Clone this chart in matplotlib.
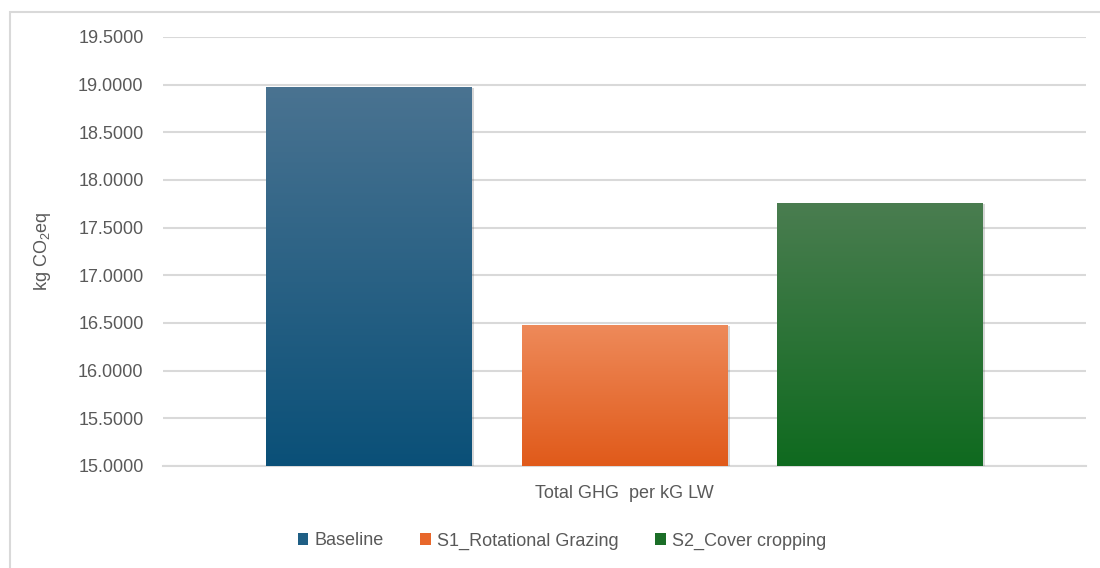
import numpy as np
import matplotlib.pyplot as plt
from matplotlib.patches import Patch, Rectangle
from matplotlib.colors import LinearSegmentedColormap
import matplotlib.patheffects as pe

plt.rcParams['font.family'] = ['Liberation Sans', 'DejaVu Sans']
plt.rcParams['mathtext.default'] = 'regular'

# scenario results
scenarios = ["Baseline", "S1_Rotational Grazing", "S2_Cover cropping"]
ghg_per_kg_lw = [18.98, 16.48, 17.76]
yticks = [15.0, 15.5, 16.0, 16.5, 17.0, 17.5, 18.0, 18.5, 19.0, 19.5]

# gradient end colours (top, bottom) per bar
grad_top = ['#4a7391', '#ee8a5a', '#4a7d50']
grad_bottom = ['#0a5078', '#e05a1a', '#0f6a1f']
legend_colors = ['#1f5f85', '#e8672b', '#1b6e27']

text_color = '#595959'
grid_color = '#d9d9d9'

fig = plt.figure(figsize=(11, 5.68), dpi=100)
ax = fig.add_axes([163 / 1100, 1 - 466 / 568, 923 / 1100, (466 - 37) / 568])

# outer chart border
fig.patches.append(Rectangle((10 / 1100, -0.1), 1.2, 1 - 12 / 568 + 0.1,
                             transform=fig.transFigure, fill=False,
                             edgecolor='#d9d9d9', linewidth=1.5))

x = np.arange(len(scenarios))
width = 0.806
bars = ax.bar(x, ghg_per_kg_lw, width=width, bottom=0, color='none', zorder=3,
              path_effects=[pe.SimplePatchShadow(offset=(1.5, -1), alpha=0.25,
                                                 shadow_rgbFace='#606060'),
                            pe.Normal()])

grad = np.linspace(0, 1, 256).reshape(-1, 1)
for bar, top, bottom, val in zip(bars, grad_top, grad_bottom, ghg_per_kg_lw):
    cmap = LinearSegmentedColormap.from_list('g', [bottom, top])
    x0 = bar.get_x()
    im = ax.imshow(grad, extent=[x0, x0 + width, 15.0, val], origin='lower',
                   cmap=cmap, aspect='auto', zorder=4)
    im.set_clip_path(bar)

ax.set_xlim(-width, 2 + width)
ax.set_ylim(15.0, 19.5)
ax.set_yticks(yticks)
ax.set_yticklabels([f'{t:.4f}' for t in yticks])
ax.set_xticks([])

ax.grid(axis='y', color=grid_color, linewidth=1.5, zorder=0)
ax.set_axisbelow(True)
for side in ['top', 'right', 'left']:
    ax.spines[side].set_visible(False)
ax.spines['bottom'].set_color(grid_color)
ax.spines['bottom'].set_linewidth(1.5)
ax.tick_params(axis='y', length=0, pad=14, labelsize=13, labelcolor=text_color)

ax.set_ylabel('kg CO$_2$eq', fontsize=13, color=text_color)
ax.yaxis.set_label_coords(-0.119, 0.5)

fig.text(624 / 1100, 1 - 494 / 568, 'Total GHG  per kG LW', ha='center', va='center',
         fontsize=13, color=text_color)

handles = [Patch(facecolor=c, edgecolor='none') for c in legend_colors]
fig.legend(handles, scenarios, loc='center', bbox_to_anchor=(562 / 1100, 1 - 541 / 568),
           ncol=3, frameon=False, fontsize=13, labelcolor=text_color,
           handlelength=0.6, handleheight=0.6, handletextpad=0.35, columnspacing=2.0)

fig.savefig('out.png', dpi=100, facecolor='white')
